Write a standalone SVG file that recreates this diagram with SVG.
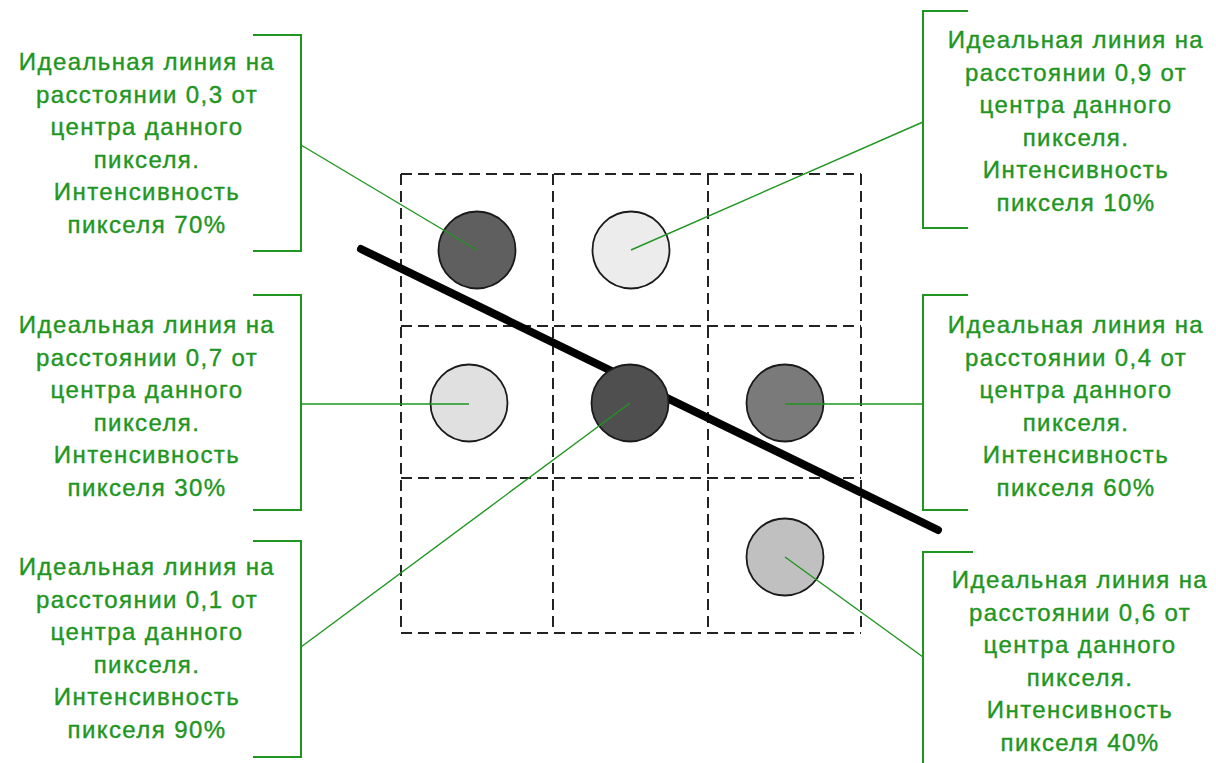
<svg xmlns="http://www.w3.org/2000/svg" width="1216" height="763" viewBox="0 0 1216 763">
<style>
.t{font-family:"Liberation Sans",Arial,sans-serif;font-size:24px;letter-spacing:1.4px;fill:#1f961f;stroke:#1f961f;stroke-width:0.4;text-anchor:middle}
.br{fill:none;stroke:#1f961f;stroke-width:2}
.cn{fill:none;stroke:#1f961f;stroke-width:1.4}
.cell{fill:none;stroke:#222;stroke-width:2;stroke-dasharray:11 6}
.px{stroke:#1a1a1a;stroke-width:1.8}
</style>
<rect width="1216" height="763" fill="#fff"/>
<g id="grid">
<line class="cell" x1="401" y1="174" x2="861" y2="174"/>
<line class="cell" x1="401" y1="326" x2="861" y2="326"/>
<line class="cell" x1="401" y1="478" x2="861" y2="478"/>
<line class="cell" x1="401" y1="633" x2="861" y2="633"/>
<line class="cell" x1="401" y1="174" x2="401" y2="633"/>
<line class="cell" x1="553" y1="174" x2="553" y2="633"/>
<line class="cell" x1="708" y1="174" x2="708" y2="633"/>
<line class="cell" x1="861" y1="174" x2="861" y2="633"/>
</g>
<g id="pixels">
<circle id="p1" class="px" cx="477" cy="250" r="38.5" fill="#5f5f5f"/>
<circle id="p2" class="px" cx="631" cy="250" r="38.5" fill="#ececec"/>
<circle id="p3" class="px" cx="469" cy="403" r="38.5" fill="#e0e0e0"/>
<circle id="p5" class="px" cx="785" cy="403" r="38.5" fill="#7a7a7a"/>
<circle id="p6" class="px" cx="785" cy="557" r="38.5" fill="#c0c0c0"/>
</g>
<line id="ideal-line" x1="361" y1="249" x2="938" y2="530" stroke="#000" stroke-width="8" stroke-linecap="round"/>
<circle id="p4" class="px" cx="630" cy="403" r="38.5" fill="#4f4f4f"/>
<g id="connectors">
<line class="cn" x1="301" y1="145" x2="477" y2="250"/>
<line class="cn" x1="301" y1="404" x2="469" y2="404"/>
<line class="cn" x1="301" y1="647" x2="630" y2="403"/>
<line class="cn" x1="923" y1="122" x2="631" y2="250"/>
<line class="cn" x1="923" y1="404" x2="785" y2="404"/>
<line class="cn" x1="923" y1="657" x2="785" y2="557"/>
</g>
<g id="label-tl">
<polyline class="br" points="253,35 301,35 301,251 253,251"/>
<text class="t"><tspan x="147" y="70">Идеальная линия на</tspan><tspan x="147" y="102.6">расстоянии 0,3 от</tspan><tspan x="147" y="135.2">центра данного</tspan><tspan x="147" y="167.8">пикселя.</tspan><tspan x="147" y="200.4">Интенсивность</tspan><tspan x="147" y="233">пикселя 70%</tspan></text>
</g>
<g id="label-ml">
<polyline class="br" points="253,295 301,295 301,510 253,510"/>
<text class="t"><tspan x="147" y="333">Идеальная линия на</tspan><tspan x="147" y="365.6">расстоянии 0,7 от</tspan><tspan x="147" y="398.2">центра данного</tspan><tspan x="147" y="430.8">пикселя.</tspan><tspan x="147" y="463.4">Интенсивность</tspan><tspan x="147" y="496">пикселя 30%</tspan></text>
</g>
<g id="label-bl">
<polyline class="br" points="253,541 301,541 301,757 253,757"/>
<text class="t"><tspan x="147" y="575">Идеальная линия на</tspan><tspan x="147" y="607.6">расстоянии 0,1 от</tspan><tspan x="147" y="640.2">центра данного</tspan><tspan x="147" y="672.8">пикселя.</tspan><tspan x="147" y="705.4">Интенсивность</tspan><tspan x="147" y="738">пикселя 90%</tspan></text>
</g>
<g id="label-tr">
<polyline class="br" points="968,11 923,11 923,228 968,228"/>
<text class="t"><tspan x="1076" y="48">Идеальная линия на</tspan><tspan x="1076" y="80.6">расстоянии 0,9 от</tspan><tspan x="1076" y="113.2">центра данного</tspan><tspan x="1076" y="145.8">пикселя.</tspan><tspan x="1076" y="178.4">Интенсивность</tspan><tspan x="1076" y="211">пикселя 10%</tspan></text>
</g>
<g id="label-mr">
<polyline class="br" points="968,295 923,295 923,510 968,510"/>
<text class="t"><tspan x="1076" y="333">Идеальная линия на</tspan><tspan x="1076" y="365.6">расстоянии 0,4 от</tspan><tspan x="1076" y="398.2">центра данного</tspan><tspan x="1076" y="430.8">пикселя.</tspan><tspan x="1076" y="463.4">Интенсивность</tspan><tspan x="1076" y="496">пикселя 60%</tspan></text>
</g>
<g id="label-br">
<polyline class="br" points="973,552 923,552 923,763"/>
<text class="t"><tspan x="1080" y="588">Идеальная линия на</tspan><tspan x="1080" y="620.6">расстоянии 0,6 от</tspan><tspan x="1080" y="653.2">центра данного</tspan><tspan x="1080" y="685.8">пикселя.</tspan><tspan x="1080" y="718.4">Интенсивность</tspan><tspan x="1080" y="751">пикселя 40%</tspan></text>
</g>
</svg>
